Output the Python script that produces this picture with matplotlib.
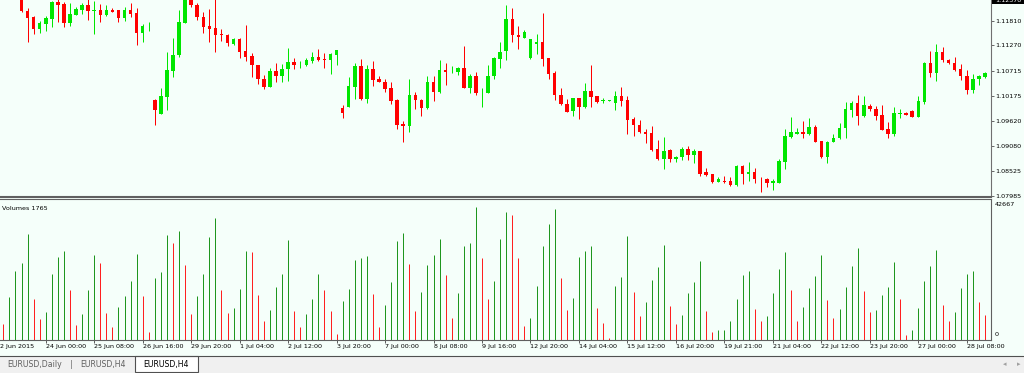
import numpy as np
import matplotlib.pyplot as plt
from matplotlib.patches import Rectangle

W, H = 1024, 373

# EURUSD H4 bars, 22 Jun - 28 Jul 2015 (first three bars sit above the visible range)
opens = [1.1262, 1.1250, 1.1258, 1.1237, 1.1203, 1.1190, 1.1164, 1.1174, 1.1185, 1.1221,
         1.1217, 1.1177, 1.1194, 1.1205, 1.1215, 1.1203, 1.1204, 1.1193, 1.1205, 1.1204,
         1.1187, 1.1205, 1.1198, 1.1154, 1.1169, 1.1008, 1.0978, 1.1014, 1.1072, 1.1105,
         1.1177, 1.1231, 1.1215, 1.1190, 1.1169, 1.1165, 1.1153, 1.1150, 1.1130, 1.1141,
         1.1114, 1.1104, 1.1084, 1.1054, 1.1037, 1.1071, 1.1060, 1.1075, 1.1091, 1.1086,
         1.1084, 1.1092, 1.1102, 1.1097, 1.1095, 1.1106, 1.0991, 1.0993, 1.1036, 1.1083,
         1.1011, 1.1076, 1.1053, 1.1048, 1.1033, 1.1008, 1.0955, 1.0950, 1.1019, 1.1008,
         1.0990, 1.1048, 1.1025, 1.1073, 1.1071, 1.1070, 1.1077, 1.1035, 1.1060, 1.1025,
         1.1023, 1.1060, 1.1097, 1.1115, 1.1185, 1.1150, 1.1144, 1.1099, 1.1130, 1.1134,
         1.1099, 1.1067, 1.1019, 1.0998, 1.0984, 1.1012, 1.0992, 1.1028, 1.1016, 1.1006,
         1.1006, 1.1002, 1.1016, 1.1007, 1.0966, 1.0954, 1.0938, 1.0936, 1.0901, 1.0878,
         1.0898, 1.0878, 1.0884, 1.0901, 1.0888, 1.0896, 1.0850, 1.0846, 1.0829, 1.0831,
         1.0831, 1.0821, 1.0864, 1.0847, 1.0851, 1.0836, 1.0835, 1.0826, 1.0827, 1.0872,
         1.0926, 1.0934, 1.0938, 1.0934, 1.0949, 1.0918, 1.0883, 1.0917, 1.0925, 1.0947,
         1.0986, 1.1002, 1.0973, 1.0995, 1.0988, 1.0975, 1.0944, 1.0934, 1.0977, 1.0979,
         1.0984, 1.0971, 1.1004, 1.1088, 1.1067, 1.1112, 1.1095, 1.1089, 1.1076, 1.1060,
         1.1030, 1.1053, 1.1059]
highs = [1.1268, 1.1265, 1.1270, 1.1244, 1.1208, 1.1192, 1.1180, 1.1192, 1.1224, 1.1231,
         1.1222, 1.1220, 1.1212, 1.1220, 1.1233, 1.1224, 1.1218, 1.1215, 1.1208, 1.1205,
         1.1212, 1.1220, 1.1208, 1.1173, 1.1178, 1.1009, 1.1033, 1.1113, 1.1143, 1.1204,
         1.1248, 1.1244, 1.1219, 1.1201, 1.1207, 1.1228, 1.1163, 1.1152, 1.1144, 1.1143,
         1.1172, 1.1111, 1.1085, 1.1062, 1.1077, 1.1088, 1.1086, 1.1122, 1.1099, 1.1093,
         1.1100, 1.1113, 1.1119, 1.1110, 1.1111, 1.1117, 1.0997, 1.1057, 1.1089, 1.1097,
         1.1084, 1.1093, 1.1061, 1.1053, 1.1046, 1.1009, 1.0962, 1.1053, 1.1025, 1.1009,
         1.1060, 1.1061, 1.1095, 1.1088, 1.1081, 1.1080, 1.1126, 1.1064, 1.1068, 1.1033,
         1.1084, 1.1102, 1.1134, 1.1215, 1.1208, 1.1170, 1.1161, 1.1141, 1.1152, 1.1197,
         1.1100, 1.1071, 1.1033, 1.1011, 1.1013, 1.1013, 1.1045, 1.1084, 1.1017, 1.1012,
         1.1008, 1.1028, 1.1036, 1.1017, 1.0971, 1.0964, 1.0944, 1.0950, 1.0920, 1.0927,
         1.0901, 1.0886, 1.0905, 1.0908, 1.0901, 1.0897, 1.0859, 1.0847, 1.0839, 1.0842,
         1.0839, 1.0866, 1.0866, 1.0872, 1.0858, 1.0840, 1.0838, 1.0836, 1.0879, 1.0944,
         1.0971, 1.0947, 1.0962, 1.0968, 1.0952, 1.0919, 1.0919, 1.0933, 1.0958, 1.1003,
         1.1006, 1.1018, 1.1016, 1.0998, 1.0994, 1.0996, 1.0960, 1.0993, 1.0987, 1.0982,
         1.0985, 1.1016, 1.1091, 1.1115, 1.1130, 1.1123, 1.1097, 1.1101, 1.1086, 1.1074,
         1.1065, 1.1063, 1.1068]
lows = [1.1248, 1.1244, 1.1240, 1.1199, 1.1134, 1.1153, 1.1154, 1.1159, 1.1168, 1.1178,
        1.1168, 1.1169, 1.1193, 1.1196, 1.1183, 1.1153, 1.1178, 1.1191, 1.1199, 1.1178,
        1.1181, 1.1190, 1.1129, 1.1134, 1.1159, 1.0953, 1.0977, 1.0985, 1.1059, 1.1102,
        1.1175, 1.1210, 1.1183, 1.1155, 1.1135, 1.1113, 1.1137, 1.1126, 1.1129, 1.1100,
        1.1094, 1.1059, 1.1043, 1.1031, 1.1036, 1.1048, 1.1048, 1.1050, 1.1076, 1.1078,
        1.1081, 1.1089, 1.1093, 1.1078, 1.1065, 1.1084, 1.0969, 1.0992, 1.1010, 1.1008,
        1.1002, 1.1039, 1.1046, 1.1025, 1.0998, 1.0945, 1.0917, 1.0938, 1.0987, 1.0973,
        1.0989, 1.1006, 1.1024, 1.1040, 1.1067, 1.1063, 1.1034, 1.1023, 1.1018, 1.0992,
        1.1022, 1.1054, 1.1078, 1.1095, 1.1135, 1.1119, 1.1143, 1.1098, 1.1109, 1.1083,
        1.1053, 1.1007, 1.0996, 1.0981, 1.0973, 1.0966, 1.0991, 1.0993, 1.1002, 1.1002,
        1.1005, 1.0986, 1.0995, 1.0933, 1.0929, 1.0935, 1.0913, 1.0896, 1.0877, 1.0856,
        1.0872, 1.0873, 1.0877, 1.0877, 1.0871, 1.0842, 1.0842, 1.0827, 1.0828, 1.0827,
        1.0820, 1.0820, 1.0825, 1.0831, 1.0827, 1.0807, 1.0818, 1.0811, 1.0826, 1.0856,
        1.0925, 1.0933, 1.0924, 1.0932, 1.0915, 1.0881, 1.0869, 1.0916, 1.0922, 1.0925,
        1.0970, 1.0952, 1.0971, 1.0984, 1.0965, 1.0942, 1.0925, 1.0929, 1.0968, 1.0974,
        1.0970, 1.0970, 1.0998, 1.1057, 1.1049, 1.1090, 1.1086, 1.1072, 1.1051, 1.1021,
        1.1024, 1.1040, 1.1056]
closes = [1.1250, 1.1258, 1.1245, 1.1203, 1.1188, 1.1164, 1.1175, 1.1186, 1.1221, 1.1216,
          1.1177, 1.1196, 1.1207, 1.1215, 1.1203, 1.1204, 1.1194, 1.1205, 1.1201, 1.1187,
          1.1205, 1.1196, 1.1154, 1.1170, 1.1170, 1.0986, 1.1017, 1.1073, 1.1106, 1.1178,
          1.1233, 1.1215, 1.1189, 1.1168, 1.1164, 1.1150, 1.1149, 1.1133, 1.1141, 1.1113,
          1.1102, 1.1084, 1.1054, 1.1037, 1.1071, 1.1060, 1.1076, 1.1091, 1.1085, 1.1087,
          1.1095, 1.1102, 1.1095, 1.1096, 1.1108, 1.1116, 1.0980, 1.1038, 1.1083, 1.1010,
          1.1076, 1.1051, 1.1047, 1.1031, 1.1006, 1.0954, 1.0951, 1.1018, 1.1007, 1.0991,
          1.1048, 1.1025, 1.1073, 1.1070, 1.1072, 1.1078, 1.1035, 1.1060, 1.1024, 1.1026,
          1.1060, 1.1099, 1.1113, 1.1185, 1.1150, 1.1145, 1.1156, 1.1140, 1.1135, 1.1098,
          1.1065, 1.1019, 1.0998, 1.0982, 1.1012, 1.0992, 1.1028, 1.1015, 1.1003, 1.1007,
          1.1007, 1.1016, 1.1006, 1.0964, 1.0953, 1.0937, 1.0934, 1.0898, 1.0878, 1.0897,
          1.0878, 1.0884, 1.0901, 1.0888, 1.0896, 1.0846, 1.0844, 1.0829, 1.0835, 1.0829,
          1.0821, 1.0864, 1.0846, 1.0851, 1.0835, 1.0834, 1.0826, 1.0830, 1.0874, 1.0928,
          1.0938, 1.0938, 1.0934, 1.0949, 1.0916, 1.0883, 1.0917, 1.0925, 1.0947, 1.0987,
          1.1001, 1.0973, 1.0997, 1.0987, 1.0973, 1.0943, 1.0934, 1.0979, 1.0979, 1.0976,
          1.0971, 1.1006, 1.1088, 1.1067, 1.1112, 1.1095, 1.1088, 1.1074, 1.1060, 1.1030,
          1.1054, 1.1061, 1.1067]
volumes = [5150, 13720, 22190, 24660, 33980, 13190, 6750, 8900, 21120, 26690,
           28620, 15970, 4820, 8360, 16190, 27340, 24760, 8790, 4290, 10610,
           14040, 18970, 27660, 14260, 2570, 19830, 21980, 33770, 31200, 34950,
           24010, 8250, 14260, 21120, 33020, 39130, 16190, 8680, 10290, 16400,
           28620, 28300, 14580, 6220, 9650, 17150, 21120, 32160, 9330, 4070,
           8360, 13290, 21120, 16190, 9330, 1820, 12540, 16400, 25730, 26260,
           26910, 14790, 4180, 11150, 18650, 31840, 34410, 24440, 9330, 15440,
           24230, 27230, 32590, 20900, 7180, 15010, 30120, 31090, 42667, 26260,
           13080, 18870, 32590, 41160, 40310, 26480, 4500, 7180, 17470, 30120,
           37200, 42020, 19940, 9650, 13510, 26690, 28620, 30230, 10180, 5570,
           540, 17260, 20150, 33450, 15440, 7720, 12110, 19300, 23580, 30550,
           10930, 5040, 7930, 15220, 18650, 25410, 9330, 2570, 3220, 3230,
           6000, 13080, 20900, 22080, 9860, 6000, 7720, 15010, 22830, 28300,
           16190, 6000, 10610, 16720, 20580, 27230, 12760, 7180, 9970, 16940,
           23800, 29590, 15650, 9000, 9650, 14580, 16940, 25190, 13290, 1610,
           3110, 10290, 18970, 23800, 28940, 11150, 6000, 8900, 16720, 21120,
           22080, 12110, 7930]

price_ticks = [1.11810, 1.11270, 1.10715, 1.10175, 1.09620, 1.09080, 1.08525, 1.07985]
label_bars = [7, 15, 23, 31, 39, 47, 55, 63, 71, 79,
              87, 95, 103, 111, 119, 127, 135, 143, 151, 159]
time_labels = ["24 Jun 00:00", "25 Jun 08:00", "26 Jun 16:00", "29 Jun 20:00", "1 Jul 04:00",
               "2 Jul 12:00", "3 Jul 20:00", "7 Jul 00:00", "8 Jul 08:00", "9 Jul 16:00",
               "12 Jul 20:00", "14 Jul 04:00", "15 Jul 12:00", "16 Jul 20:00", "19 Jul 21:00",
               "21 Jul 04:00", "22 Jul 12:00", "23 Jul 20:00", "27 Jul 00:00", "28 Jul 08:00"]
first_label = "2 Jun 2015"
tabs = ["EURUSD,Daily", "EURUSD,H4", "EURUSD,H4"]

bg = '#F5FFFA'
bull, bear = '#00E600', '#FF0000'
vol_up, vol_down = '#1E961E', '#FF2020'
fs = 4.6


def px_axes(fig, x0, y0, x1, y1):
    # axes placed by pixel box (top-left origin)
    return fig.add_axes([x0 / W, 1 - y1 / H, (x1 - x0) / W, (y1 - y0) / H])


fig = plt.figure(figsize=(W / 100, H / 100), dpi=100)
fig.patch.set_facecolor(bg)

bars = np.arange(len(opens))
o = np.array(opens)
c = np.array(closes)
xlim = (-0.55, 163.0)

# price window
ax = px_axes(fig, 0, 0, 991, 197)
ax.set_facecolor(bg)
col = np.where(c >= o, bull, bear)
ax.vlines(bars, lows, highs, colors=col, lw=0.72)
ax.bar(bars, np.maximum(np.abs(c - o), 0.00012), bottom=np.minimum(o, c),
       width=0.58, color=col, lw=0)
ax.set_xlim(xlim)
ax.set_ylim(1.07957, 1.12263)
ax.set_xticks([])
ax.yaxis.tick_right()
ax.set_yticks(price_ticks)
ax.set_yticklabels(["%.5f" % p for p in price_ticks])
ax.tick_params(axis='y', length=2.2, width=0.6, color='#505050', pad=0.8,
               labelsize=fs, labelcolor='black')
for s in ['top', 'left']:
    ax.spines[s].set_visible(False)
ax.spines['right'].set_color('#707070')
ax.spines['right'].set_linewidth(0.8)
ax.spines['bottom'].set_color('#606060')
ax.spines['bottom'].set_linewidth(1.5)

# volume window
av = px_axes(fig, 0, 199, 991, 340)
av.set_facecolor(bg)
v = np.array(volumes)
vcol = [vol_down] + [vol_up if v[i] >= v[i - 1] else vol_down for i in range(1, len(v))]
av.vlines(bars, 0, v, colors=vcol, lw=0.72)
av.set_xlim(xlim)
av.set_ylim(0, 45330)
av.set_yticks([])
av.set_xticks(label_bars)
av.set_xticklabels(time_labels, ha='left')
av.tick_params(axis='x', length=2.2, width=0.6, color='#404040', pad=0.6,
               labelsize=fs, labelcolor='black')
av.spines['left'].set_visible(False)
for s in ['top', 'right', 'bottom']:
    av.spines[s].set_color('#606060')
    av.spines[s].set_linewidth(0.8)
av.text(0.002, 0.935, "Volumes 1765", transform=av.transAxes, fontsize=fs, va='center')

# overlay in pixel units for labels and tab bar
ov = fig.add_axes([0, 0, 1, 1])
ov.set_xlim(0, W)
ov.set_ylim(H, 0)
ov.axis('off')
ov.text(0.5, 344, first_label, fontsize=fs, va='top', ha='left')
ov.text(995, 204.3, "42667", fontsize=fs, va='center')
ov.text(995, 335, "0", fontsize=fs, va='center')
ov.add_patch(Rectangle((992, 0), 32, 4, color='black', lw=0))
ov.text(995, 0, "1.12370", fontsize=fs, va='center', color='white', clip_on=True)

ov.add_patch(Rectangle((0, 356), W, 17, color='#F0F0F0', lw=0))
ov.plot([0, W], [356, 356], color='#505050', lw=0.8)
ov.add_patch(Rectangle((135, 356), 63, 16, facecolor='white', edgecolor='#505050', lw=0.8))
ov.text(35, 364.5, tabs[0], fontsize=5.6, color='#606060', ha='center', va='center')
ov.text(71, 364.5, "|", fontsize=5.6, color='#606060', ha='center', va='center')
ov.text(103, 364.5, tabs[1], fontsize=5.6, color='#606060', ha='center', va='center')
ov.text(166, 364.5, tabs[2], fontsize=5.6, color='black', ha='center', va='center')
ov.text(1005, 364.5, "\u25c2", fontsize=5, color='#A0A0A0', ha='center', va='center')
ov.text(1019, 364.5, "\u25b8", fontsize=5, color='#A0A0A0', ha='center', va='center')

fig.savefig("out.png", dpi=100, facecolor=bg)
